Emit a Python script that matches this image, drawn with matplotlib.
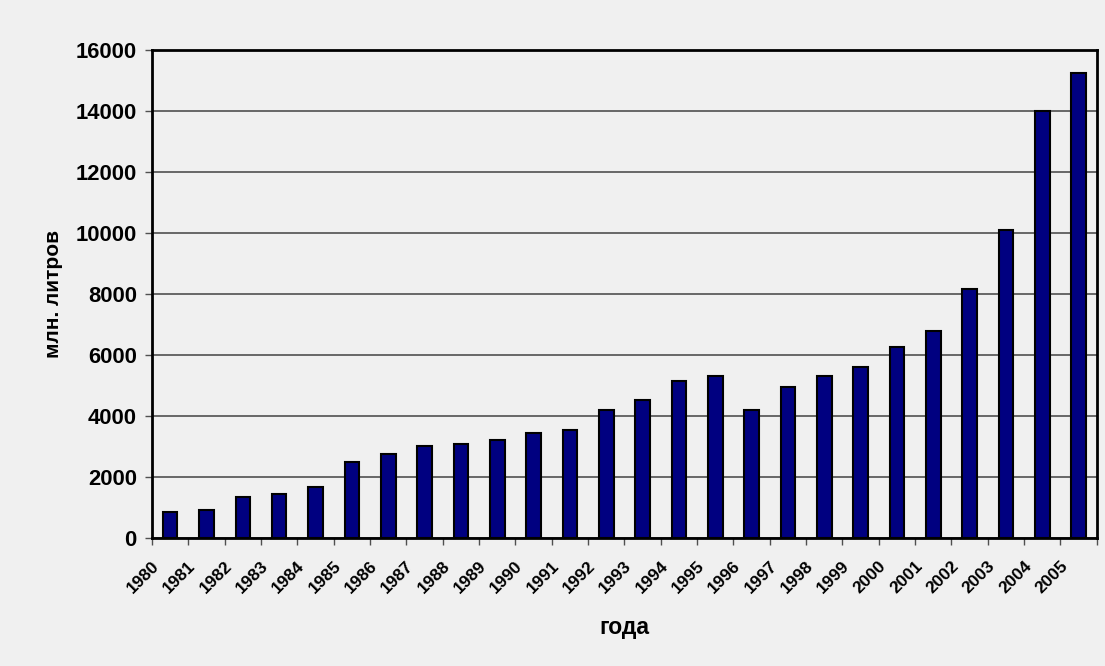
import numpy as np
import matplotlib
matplotlib.use("Agg")
import matplotlib.pyplot as plt
import matplotlib.transforms as mtransforms

plt.rcParams['font.family'] = ['Liberation Sans', 'DejaVu Sans']
plt.rcParams['font.weight'] = 'bold'

# данные
years = [str(y) for y in range(1980, 2006)]
values = [850, 920, 1320, 1440, 1650, 2500, 2750, 3020, 3090, 3210,
          3420, 3550, 4200, 4530, 5130, 5320, 4200, 4930, 5320, 5590,
          6240, 6770, 8150, 10110, 14000, 15250]
yticks = [0, 2000, 4000, 6000, 8000, 10000, 12000, 14000, 16000]

bg = '#f0f0f0'
fig = plt.figure(figsize=(11.05, 6.66), dpi=100, facecolor=bg)
ax = fig.add_axes([0.1376, 0.1926, 0.855, 0.7324], facecolor=bg)

x = np.arange(len(years))
ax.bar(x, values, width=0.4, color='#000080', edgecolor='black', linewidth=1.5, zorder=3)

ax.set_xlim(-0.5, len(years) - 0.5)
ax.set_ylim(0, 16000)
ax.set_yticks(yticks)
ax.set_yticklabels([str(v) for v in yticks], fontsize=15.8, fontweight='bold')
ax.yaxis.grid(True, color='#505050', linewidth=1.2, zorder=0)

# подписи по центру категорий, засечки по границам
ax.set_xticks(x)
ax.set_xticklabels(years, rotation=45, ha='right', va='top', fontsize=12.4, fontweight='bold')
ax.set_xticks(np.arange(len(years) + 1) - 0.5, minor=True)
ax.tick_params(axis='x', which='major', length=0, pad=15)
ax.tick_params(axis='x', which='minor', length=5, width=1, color='#505050', direction='out')
ax.tick_params(axis='y', length=5, width=1, color='#505050', direction='out', pad=6)
offset = mtransforms.ScaledTranslation(-0.08, 0, fig.dpi_scale_trans)
for lab in ax.get_xticklabels():
    lab.set_transform(lab.get_transform() + offset)

for s in ax.spines.values():
    s.set_linewidth(2)
    s.set_color('black')

ax.set_xlabel('года', fontsize=16.5, fontweight='bold', labelpad=14)
ax.set_ylabel('млн. литров', fontsize=15, fontweight='bold', labelpad=9)

fig.savefig('out.png', dpi=100, facecolor=bg)
